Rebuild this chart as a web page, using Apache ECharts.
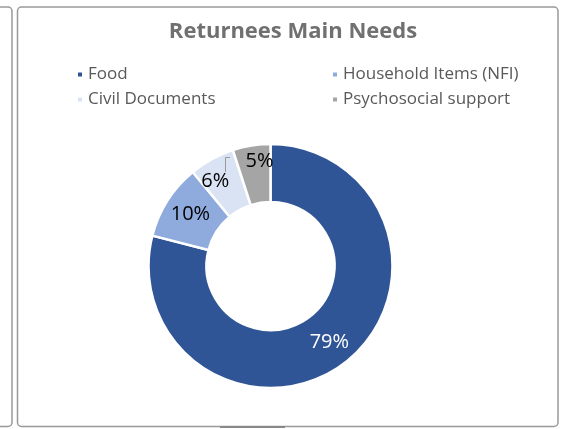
<!DOCTYPE html>
<html><head><meta charset="utf-8">
<script src="https://cdn.jsdelivr.net/npm/echarts@6/dist/echarts.min.js"></script>
<style>html,body{margin:0;padding:0;background:#fff}#c{width:562px;height:429px}</style>
</head><body><div id="c"></div>
<script>
const categories = ["Food", "Household Items (NFI)", "Civil Documents", "Psychosocial support"];
const values = [79, 10, 6, 5];
const colors = ["#2F5597", "#8FAADC", "#DAE3F3", "#A5A5A5"];
const titleText = "Returnees Main Needs";

const FONT = "'Open Sans', sans-serif";
const legendBase = {
  orient: 'vertical', top: 66, itemGap: 8, padding: 0,
  itemWidth: 6, itemHeight: 6, icon: 'rect',
  textStyle: {fontFamily: FONT, fontSize: 17, lineHeight: 17, color: '#595959', padding: 0}
};
const chart = echarts.init(document.getElementById('c'), null, {renderer: 'canvas'});
chart.setOption({
  backgroundColor: '#fff',
  animation: false,
  title: {
    text: titleText, left: 288, top: 16, textAlign: 'center',
    textStyle: {fontFamily: FONT, fontSize: 22, fontWeight: 'bold', color: '#707070'}
  },
  legend: [
    Object.assign({data: [categories[0], categories[2]], left: 76}, legendBase),
    Object.assign({data: [categories[1], categories[3]], left: 331}, legendBase)
  ],
  graphic: [
    {type: 'rect', shape: {x: 17.5, y: 7, width: 540.5, height: 419.5, r: 4}, style: {fill: 'none', stroke: '#999', lineWidth: 1.5}, silent: true},
    {type: 'rect', shape: {x: -20, y: 7, width: 32, height: 419.5, r: 4}, style: {fill: 'none', stroke: '#999', lineWidth: 1.5}, silent: true},
    {type: 'line', shape: {x1: 220, y1: 427, x2: 285, y2: 427}, style: {stroke: '#888', lineWidth: 2}, silent: true},
    {type: 'polyline', z: 100, shape: {points: [[230, 157.5], [225.5, 157.5], [225.5, 172]]}, style: {stroke: '#9a9a9a', lineWidth: 1, fill: 'none'}, silent: true}
  ],
  series: [{
    type: 'pie',
    center: [270.5, 266],
    radius: [64, 122],
    startAngle: 90,
    clockwise: true,
    itemStyle: {borderColor: '#fff', borderWidth: 2.5},
    label: {
      show: true, position: 'inside', formatter: '{c}%',
      fontFamily: FONT, fontSize: 20, color: '#000'
    },
    labelLine: {show: false},
    labelLayout: function (p) {
      if (p.dataIndex === 3) return {dy: -10, dx: 4};
      if (p.dataIndex === 2) return {dx: -9, dy: -1};
      if (p.dataIndex === 1) return {dx: 1};
      return {};
    },
    emphasis: {disabled: true},
    data: categories.map((n, i) => ({
      name: n, value: values[i],
      itemStyle: {color: colors[i]},
      label: i === 0 ? {color: '#fff'} : {}
    }))
  }]
});
</script></body></html>
